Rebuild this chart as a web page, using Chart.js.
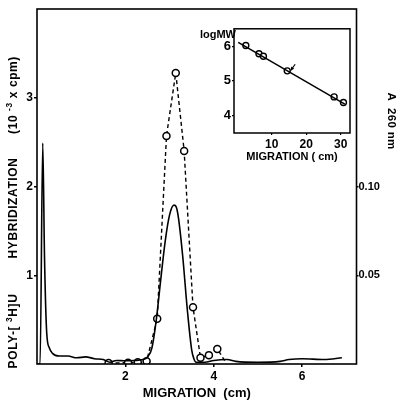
<!DOCTYPE html>
<html>
<head>
<meta charset="utf-8">
<script src="https://cdn.jsdelivr.net/npm/chart.js@4"></script>
<style>
  body { margin: 0; background: #fff; }
  #wrap { position: relative; width: 396px; height: 401px; }
  #inset { position: absolute; left: 180px; top: 20px; }
</style>
</head>
<body>
<div id="wrap">
  <canvas id="main" width="396" height="401"></canvas>
  <canvas id="inset" width="190" height="145"></canvas>
</div>
<script>
// A260 trace (solid line): migration (cm) vs absorbance
const a260X = [0, 0.07, 0.13, 0.17, 0.22, 0.28, 0.35, 0.5, 0.7, 0.9, 1.1, 1.3, 1.5, 1.65, 1.8, 2.0, 2.2, 2.4,
  2.5, 2.6, 2.7, 2.8, 2.9, 3.0, 3.1, 3.15, 3.2, 3.3, 3.4, 3.5, 3.55, 3.6, 3.8, 4.0, 4.3, 4.5, 5.0, 5.5, 5.7, 6.0, 6.5, 6.9];
const a260Y = [0, 0, 0.1245, 0.06, 0.0175, 0.009, 0.006, 0.0045, 0.0045, 0.0035, 0.004, 0.003, 0.0025, 0.001, 0.002, 0.0018, 0.002, 0.0025,
  0.004, 0.009, 0.025, 0.0475, 0.069, 0.084, 0.0895, 0.0885, 0.0825, 0.06, 0.031, 0.008, 0.003, 0.001, 0.001, 0.002, 0.0025, 0.0015, 0.001, 0.0015, 0.0025, 0.003, 0.0025, 0.0035];

// poly-[3H]U hybridization (dashed, open circles), 10^-3 x cpm
const hybX = [1.62, 2.06, 2.28, 2.48, 2.72, 2.93, 3.14, 3.33, 3.53, 3.70, 3.89, 4.08, 4.27];
const hybY = [0.01, 0.015, 0.02, 0.03, 0.51, 2.57, 3.28, 2.40, 0.64, 0.07, 0.10, 0.17, 0.02];

const xTicks = [2, 4, 6];
const leftTicks = [1, 2, 3];
const rightTicks = [0.05, 0.10];

// inset: log MW vs migration
const mwX = [2.5, 6.3, 7.6, 14.5, 28.1, 30.8];
const mwY = [6.02, 5.78, 5.71, 5.29, 4.54, 4.38];
const fitX = [0.3, 31.2];
const fitY = [6.11, 4.33];
const arrowX = [16.8, 15.5];
const arrowY = [5.48, 5.30];
const insetXTicks = [10, 20, 30];
const insetYTicks = [4, 5, 6];

const FONT = '"Liberation Sans", Arial, sans-serif';
const tickFont = { family: FONT, size: 12, weight: 'bold' };

function setTicks(values) {
  return scale => { scale.ticks = values.map(v => ({ value: v })); };
}

// plain frame around the plot area
const framePlugin = {
  id: 'frame',
  afterDraw(chart, args, opts) {
    const { ctx, chartArea: a } = chart;
    ctx.save();
    ctx.strokeStyle = '#000';
    ctx.lineWidth = opts.width || 1.5;
    ctx.strokeRect(a.left, a.top, a.right - a.left, a.bottom - a.top);
    ctx.restore();
  }
};

function drawRich(ctx, parts, size, spacing) {
  ctx.letterSpacing = (spacing || 0) + 'px';
  let w = 0;
  parts.forEach(p => {
    ctx.font = 'bold ' + (p.sup ? size * 0.7 : size) + 'px ' + FONT;
    p.w = ctx.measureText(p.t).width;
    w += p.w;
  });
  let x = -w / 2;
  parts.forEach(p => {
    ctx.font = 'bold ' + (p.sup ? size * 0.7 : size) + 'px ' + FONT;
    ctx.fillText(p.t, x, p.sup ? -size * 0.4 : 0);
    x += p.w;
  });
  ctx.letterSpacing = '0px';
}

const titlePlugin = {
  id: 'titles',
  afterDraw(chart) {
    const ctx = chart.ctx;
    ctx.save();
    ctx.fillStyle = '#000';
    ctx.textBaseline = 'middle';
    ctx.textAlign = 'left';
    // left axis title, reading upwards
    const pieces = [
      { y: 331, parts: [{ t: 'POLY-[ ' }, { t: '3', sup: true }, { t: 'H]U' }] },
      { y: 208, parts: [{ t: 'HYBRIDIZATION' }] },
      { y: 95, parts: [{ t: '(10 ' }, { t: '-3', sup: true }, { t: ' x cpm)' }] }
    ];
    pieces.forEach(pc => {
      ctx.save();
      ctx.translate(14, pc.y);
      ctx.rotate(-Math.PI / 2);
      drawRich(ctx, pc.parts, 12, 0.6);
      ctx.restore();
    });
    // right axis title, reading downwards
    ctx.save();
    ctx.translate(391, 121);
    ctx.rotate(Math.PI / 2);
    drawRich(ctx, [{ t: 'A  260 nm' }], 11.5, 0.3);
    ctx.restore();
    ctx.restore();
  }
};

new Chart(document.getElementById('main'), {
  type: 'line',
  data: {
    datasets: [
      {
        label: 'A 260 nm',
        data: a260X.map((x, i) => ({ x, y: a260Y[i] })),
        yAxisID: 'yR',
        borderColor: '#000',
        borderWidth: 1.6,
        pointRadius: 0,
        cubicInterpolationMode: 'monotone',
        fill: false
      },
      {
        label: 'Poly-[3H]U hybridization',
        data: hybX.map((x, i) => ({ x, y: hybY[i] })),
        yAxisID: 'yL',
        borderColor: '#000',
        borderWidth: 1.4,
        borderDash: [4, 3],
        tension: 0,
        pointRadius: ctx => ctx.dataIndex === hybX.length - 1 ? 0 : 3.5,
        pointBackgroundColor: '#fff',
        pointBorderColor: '#000',
        pointBorderWidth: 1.5,
        fill: false
      }
    ]
  },
  options: {
    responsive: false,
    animation: false,
    devicePixelRatio: 1,
    layout: { padding: { top: 9, left: 0, right: 0, bottom: 0 } },
    plugins: { legend: { display: false }, tooltip: { enabled: false }, frame: { width: 1.6 } },
    scales: {
      x: {
        type: 'linear',
        min: 0,
        max: 7.23,
        afterBuildTicks: setTicks(xTicks),
        afterFit: s => { s.height = 37; },
        border: { display: false },
        grid: { drawOnChartArea: false, tickLength: 3, color: '#000', lineWidth: 1.5 },
        ticks: { color: '#000', font: tickFont, padding: 2, maxRotation: 0 },
        title: {
          display: true,
          text: 'MIGRATION  (cm)',
          color: '#000',
          font: { family: FONT, size: 13, weight: 'bold' },
          padding: { top: 0, bottom: 0 }
        }
      },
      yL: {
        position: 'left',
        min: 0,
        max: 4,
        afterBuildTicks: setTicks(leftTicks),
        afterFit: s => { s.width = 37; },
        border: { display: false },
        grid: { drawOnChartArea: false, tickLength: 3, color: '#000', lineWidth: 1.5 },
        ticks: { color: '#000', font: tickFont, padding: 1 }
      },
      yR: {
        position: 'right',
        min: 0,
        max: 0.2,
        afterBuildTicks: setTicks(rightTicks),
        afterFit: s => { s.width = 39.5; },
        border: { display: false },
        grid: { drawOnChartArea: false, tickLength: 2, color: '#000', lineWidth: 1.5 },
        ticks: { color: '#000', font: { family: FONT, size: 11, weight: 'bold' }, padding: 0, callback: v => v.toFixed(2) }
      }
    }
  },
  plugins: [framePlugin, titlePlugin]
});

// inset label and arrow
const insetDecor = {
  id: 'insetDecor',
  afterDraw(chart) {
    const { ctx, chartArea: a, scales } = chart;
    ctx.save();
    ctx.fillStyle = '#000';
    ctx.font = 'bold 11px ' + FONT;
    ctx.textAlign = 'right';
    ctx.textBaseline = 'middle';
    ctx.fillText('logMW', a.left + 2, a.top + 6);
    // arrow pointing at the marked sample
    const x0 = scales.x.getPixelForValue(arrowX[0]), y0 = scales.y.getPixelForValue(arrowY[0]);
    const x1 = scales.x.getPixelForValue(arrowX[1]), y1 = scales.y.getPixelForValue(arrowY[1]);
    ctx.strokeStyle = '#000';
    ctx.lineWidth = 1.2;
    ctx.beginPath();
    ctx.moveTo(x0, y0);
    ctx.lineTo(x1, y1);
    ctx.stroke();
    const ang = Math.atan2(y1 - y0, x1 - x0);
    ctx.beginPath();
    ctx.moveTo(x1, y1);
    ctx.lineTo(x1 - 4 * Math.cos(ang - 0.5), y1 - 4 * Math.sin(ang - 0.5));
    ctx.lineTo(x1 - 4 * Math.cos(ang + 0.5), y1 - 4 * Math.sin(ang + 0.5));
    ctx.closePath();
    ctx.fill();
    ctx.restore();
  }
};

new Chart(document.getElementById('inset'), {
  type: 'scatter',
  data: {
    datasets: [
      {
        label: 'fit',
        data: fitX.map((x, i) => ({ x, y: fitY[i] })),
        showLine: true,
        borderColor: '#000',
        borderWidth: 1.5,
        pointRadius: 0
      },
      {
        label: 'log MW',
        data: mwX.map((x, i) => ({ x, y: mwY[i] })),
        showLine: false,
        pointRadius: 3,
        pointBackgroundColor: '#fff',
        pointBorderColor: '#000',
        pointBorderWidth: 1.4
      }
    ]
  },
  options: {
    responsive: false,
    animation: false,
    devicePixelRatio: 1,
    layout: { padding: { top: 7, right: 20, left: 0, bottom: 0 } },
    plugins: { legend: { display: false }, tooltip: { enabled: false }, frame: { width: 1.5 } },
    scales: {
      x: {
        type: 'linear',
        min: -0.93,
        max: 32.7,
        afterBuildTicks: setTicks(insetXTicks),
        afterFit: s => { s.height = 32; },
        border: { display: false },
        grid: { drawOnChartArea: false, tickLength: 2, color: '#000', lineWidth: 1.2 },
        ticks: { color: '#000', font: tickFont, padding: 2, maxRotation: 0 },
        title: {
          display: true,
          text: 'MIGRATION ( cm)',
          color: '#000',
          font: { family: FONT, size: 11, weight: 'bold' },
          padding: { top: 0, bottom: 1 }
        }
      },
      y: {
        min: 3.5,
        max: 6.5,
        afterBuildTicks: setTicks(insetYTicks),
        afterFit: s => { s.width = 54; },
        border: { display: false },
        grid: { drawOnChartArea: false, tickLength: 2, color: '#000', lineWidth: 1.2 },
        ticks: { color: '#000', font: { family: FONT, size: 13, weight: 'bold' }, padding: 1 }
      }
    }
  },
  plugins: [framePlugin, insetDecor]
});
</script>
</body>
</html>
